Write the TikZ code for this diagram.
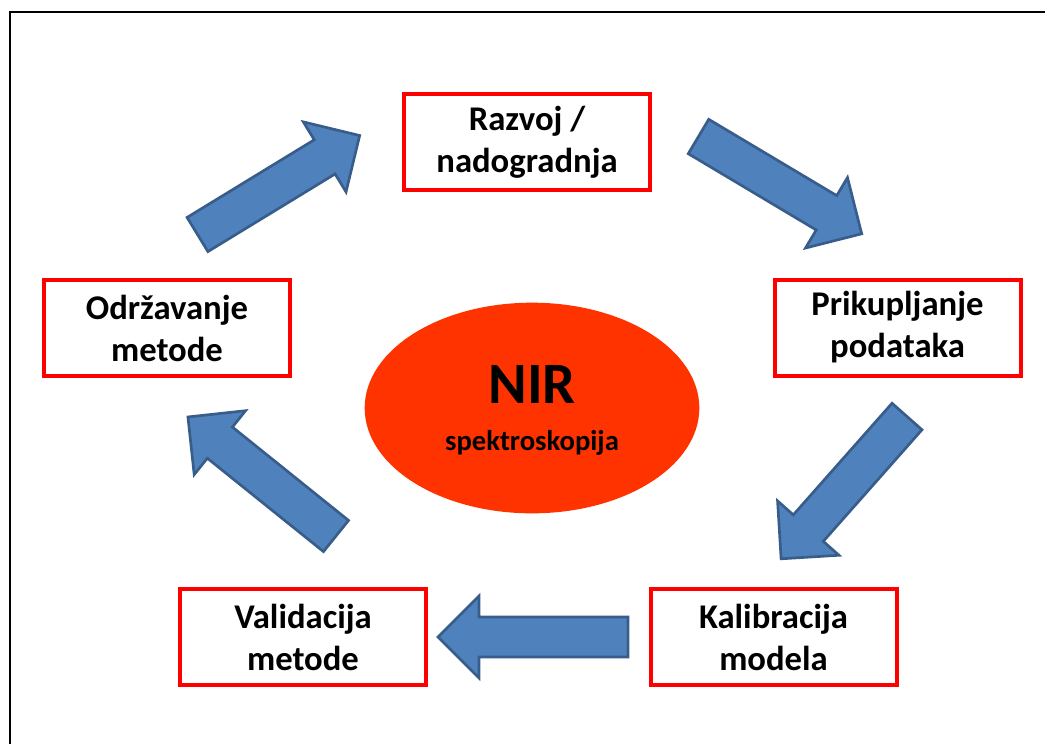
\documentclass[tikz,border=0pt]{standalone}
\usepackage{fontspec}
\setmainfont{Carlito}
\usetikzlibrary{shapes.geometric}
\definecolor{arrowfill}{HTML}{4F81BD}
\definecolor{arrowline}{HTML}{385D8A}
\definecolor{nirred}{HTML}{FF3300}
\newcommand\blockarrow[2]{%
  \begin{scope}[shift={#1}, rotate=#2]
    \draw[blockarrowstyle] (0,-20) -- (149,-20) -- (149,-41) -- (190,0)
      -- (149,41) -- (149,20) -- (0,20) -- cycle;
  \end{scope}}
\begin{document}
\begin{tikzpicture}[x=0.75pt,y=-0.75pt,
  stepbox/.style={draw=red, line width=3pt, fill=white, minimum width=184.5pt,
    minimum height=72pt, inner sep=0pt, align=center,
    font=\fontsize{26}{31.5}\selectfont\bfseries},
  blockarrowstyle/.style={fill=arrowfill, draw=arrowline, line width=2pt, line join=miter}]
\useasboundingbox (0,0) rectangle (1045,744);
\draw[line width=1.5pt, black] (10,744) -- (10,12) -- (1045,12);
% central ellipse
\node[ellipse, fill=nirred, minimum width=251pt, minimum height=158pt, inner sep=0pt] (nir) at (532,408) {};
\node[anchor=base, font=\fontsize{44}{50}\selectfont\bfseries] (nirt) at (532,403) {NIR};
\node[anchor=base, font=\fontsize{21.5}{26}\selectfont\bfseries] (spek) at (532,450) {spektroskopija};
% boxes
\node[stepbox] (razvoj) at (527,142) {Razvoj /\\nadogradnja};
\node[stepbox] (prik) at (897.5,327.5) {Prikupljanje\\podataka};
\node[stepbox] (kalib) at (773.5,637) {Kalibracija\\modela};
\node[stepbox] (valid) at (303,637) {Validacija\\metode};
\node[stepbox] (odrz) at (167,328) {Održavanje\\metode};
% block arrows
\blockarrow{(197.5,234.5)}{31.4}
\blockarrow{(698.5,136.5)}{-30.8}
\blockarrow{(907,416.5)}{-131.5}
\blockarrow{(628,637)}{180}
\blockarrow{(336,536)}{141.2}
\end{tikzpicture}
\end{document}
